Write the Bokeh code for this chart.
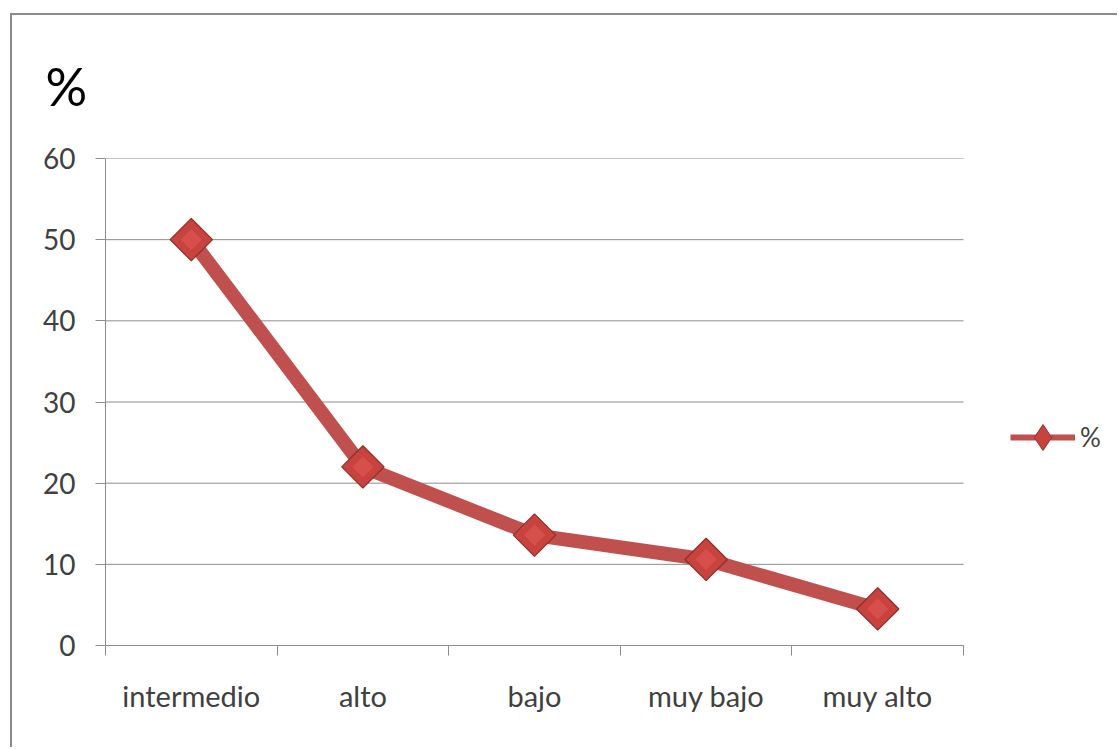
from bokeh.plotting import figure
from bokeh.models import (FixedTicker, Legend, LegendItem, ColumnDataSource, Range1d)
from bokeh.embed import file_html
from bokeh.resources import INLINE
import numpy as np

categories = ["intermedio", "alto", "bajo", "muy bajo", "muy alto"]
values = [50, 22, 13.6, 10.6, 4.5]
y_ticks = [0, 10, 20, 30, 40, 50, 60]
series_name = "%"

RED = "#C0504D"
EDGE = "#8E2F2C"
GRID = "#8C8C8C"
TEXT = "#404040"
FONT = "Lato"

n = len(categories)
xs = [i + 0.5 for i in range(n)]
src = ColumnDataSource(dict(x=xs, y=values, cat=categories))

# the frame runs to the right edge; the category area covers 858 of its 1014 px,
# leaving room on the right for the legend
FRAME_W, CAT_W = 1014, 858
x_end = n * FRAME_W / CAT_W

p = figure(width=1107, height=734, output_backend="svg", toolbar_location=None,
           x_range=Range1d(0, x_end), y_range=Range1d(0, 60),
           min_border_left=93, min_border_right=0, min_border_top=143,
           min_border_bottom=104, background_fill_color="white",
           border_fill_color="white", title=series_name)
p.styles = {"margin-left": "10px", "margin-top": "13px",
            "border-left": "2px solid #8A8A8A", "border-top": "2px solid #8A8A8A"}
p.outline_line_color = None

p.title.text_font = FONT
p.title.text_font_size = "52px"
p.title.text_font_style = "normal"
p.title.text_color = "black"
p.title.align = "left"
p.title.vertical_align = "top"
p.title.offset = -60
p.title.standoff = 79

# category axis: labels at centres, ticks between categories
p.xaxis.ticker = FixedTicker(ticks=xs, minor_ticks=list(range(n + 1)))
p.xaxis.bounds = (0, n)
p.xaxis.major_label_overrides = {x: c for x, c in zip(xs, categories)}
p.xaxis.major_tick_line_color = None
p.xaxis.minor_tick_line_color = GRID
p.xaxis.minor_tick_out = 10
p.xaxis.minor_tick_in = 0
p.xaxis.axis_line_color = GRID
p.xaxis.major_label_standoff = 22
p.xaxis.major_label_text_font = FONT
p.xaxis.major_label_text_font_size = "29px"
p.xaxis.major_label_text_color = TEXT

p.yaxis.ticker = FixedTicker(ticks=y_ticks)
p.yaxis.minor_tick_line_color = None
p.yaxis.major_tick_out = 10
p.yaxis.major_tick_in = 0
p.yaxis.major_tick_line_color = GRID
p.yaxis.axis_line_color = GRID
p.yaxis.major_label_standoff = 20
p.yaxis.major_label_text_font = FONT
p.yaxis.major_label_text_font_size = "28px"
p.yaxis.major_label_text_color = TEXT

# horizontal gridlines only across the category area
p.xgrid.grid_line_color = None
p.ygrid.grid_line_color = None
grid_y = [t for t in y_ticks if t > 0]
p.segment(x0=[0] * len(grid_y), x1=[n] * len(grid_y), y0=grid_y, y1=grid_y,
          line_color=GRID, line_width=1)

p.line("x", "y", source=src, line_color=RED, line_width=14, line_join="round")
p.scatter("x", "y", source=src, marker="square", angle=np.pi / 4, size=30,
          fill_color="#C8423E", line_color=EDGE, line_width=1.2)
p.scatter("x", "y", source=src, marker="square", angle=np.pi / 4, size=15,
          fill_color="#D9534F", line_color=None, fill_alpha=0.8)

# legend sample: thinner line and a smaller diamond than the series marks
blank = ColumnDataSource(dict(x=[np.nan], y=[np.nan]))
leg_line = p.line("x", "y", source=blank, line_color=RED, line_width=6)
leg_mark = p.scatter("x", "y", source=blank, marker="diamond",
                     fill_color="#C8423E", line_color=EDGE, line_width=1)
legend = Legend(items=[LegendItem(label=series_name, renderers=[leg_line, leg_mark])],
                location=(905, 175), glyph_width=65, glyph_height=66, padding=0,
                margin=0, label_standoff=5, border_line_color=None,
                background_fill_alpha=0, label_text_font=FONT,
                label_text_font_size="26px", label_text_color=TEXT)
p.add_layout(legend, "center")

open("out.html", "w").write(file_html(p, INLINE))
